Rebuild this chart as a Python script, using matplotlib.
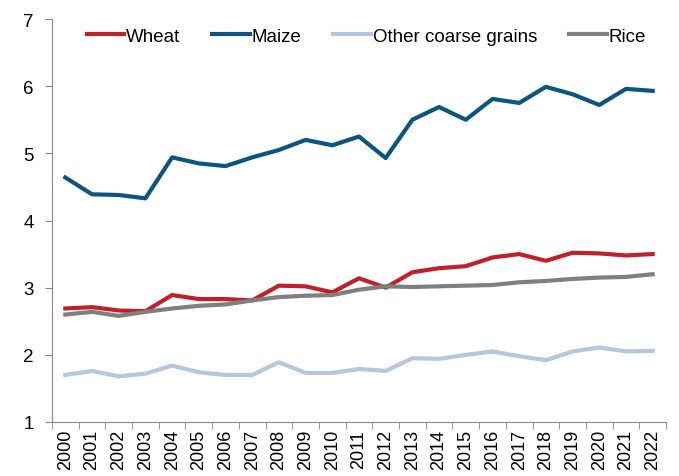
import numpy as np
import matplotlib.pyplot as plt

plt.rcParams['font.family'] = ['Liberation Sans', 'DejaVu Sans']

years = [str(y) for y in range(2000, 2023)]
wheat = [2.69, 2.71, 2.66, 2.65, 2.89, 2.83, 2.83, 2.81, 3.03, 3.02, 2.93, 3.14,
         3.00, 3.23, 3.29, 3.32, 3.45, 3.50, 3.40, 3.52, 3.51, 3.48, 3.50]
maize = [4.64, 4.39, 4.38, 4.33, 4.94, 4.85, 4.81, 4.94, 5.05, 5.20, 5.12, 5.25,
         4.93, 5.50, 5.69, 5.50, 5.81, 5.75, 5.99, 5.88, 5.72, 5.96, 5.93]
other = [1.70, 1.76, 1.68, 1.72, 1.84, 1.74, 1.70, 1.70, 1.89, 1.73, 1.73, 1.79,
         1.76, 1.95, 1.94, 2.00, 2.05, 1.98, 1.92, 2.05, 2.11, 2.05, 2.06]
rice = [2.60, 2.64, 2.58, 2.64, 2.69, 2.73, 2.75, 2.81, 2.86, 2.88, 2.89, 2.97,
        3.02, 3.01, 3.02, 3.03, 3.04, 3.08, 3.10, 3.13, 3.15, 3.16, 3.20]

fig = plt.figure(figsize=(6.79, 4.77), dpi=100)
ax = fig.add_axes([52/679, 1 - 423/477, (666-52)/679, (423-20)/477])

x = np.arange(len(years))
ax.plot(x, wheat, color="#C0202A", lw=3, label="Wheat")
ax.plot(x, maize, color="#0B5580", lw=3, label="Maize")
ax.plot(x, other, color="#B4C7DC", lw=3, label="Other coarse grains")
ax.plot(x, rice, color="#7F7F7F", lw=3, label="Rice")

ax.set_xlim(-0.5, len(years) - 0.5)
ax.set_ylim(1, 7)
ax.set_yticks(range(1, 8))
ax.set_xticks(x)
ax.set_xticklabels(years, rotation=90)
ax.set_xticks(np.arange(-0.5, len(years), 1), minor=True)
ax.tick_params(axis='x', which='major', length=0, labelsize=13, pad=5)
ax.tick_params(axis='x', which='minor', length=5, color="#888888")
ax.tick_params(axis='y', length=5, color="#888888", labelsize=13.5, pad=8)

for s in ["top", "right"]:
    ax.spines[s].set_visible(False)
for s in ["left", "bottom"]:
    ax.spines[s].set_color("#888888")

ax.legend(loc="upper center", bbox_to_anchor=(0.512, 1.02), ncol=4, frameon=False,
          fontsize=13.5, handlelength=2.0, handletextpad=0.1, columnspacing=1.7)

fig.savefig("out.png", dpi=100)
